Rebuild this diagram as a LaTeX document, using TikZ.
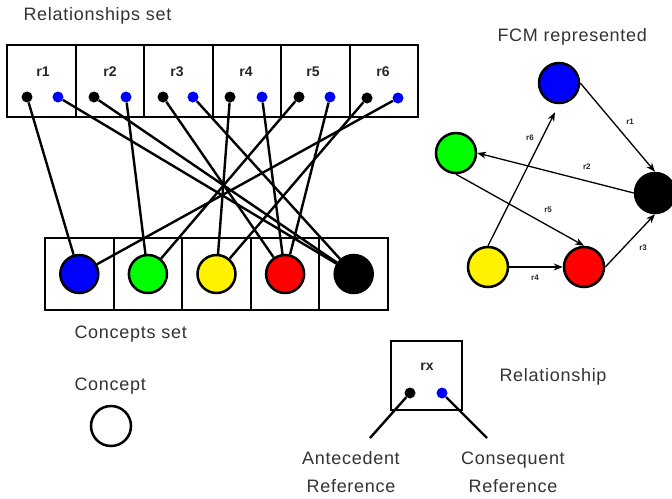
\documentclass[tikz,border=0pt]{standalone}
\usepackage{fontspec}
\setmainfont{Liberation Sans}
\usetikzlibrary{arrows.meta}
\tikzset{
  cell/.style={draw, line width=2pt, minimum width=68.5pt, minimum height=72pt, inner sep=0pt},
  refdot/.style={circle, fill=#1, inner sep=0pt, minimum size=11pt},
  concept/.style={circle, draw, line width=2.5pt, fill=#1, minimum size=38pt, inner sep=0pt},
  fcmconcept/.style={concept=#1, minimum size=40pt},
  link/.style={line width=2.4pt},
  fcmarrow/.style={line width=1.3pt, -{Stealth[length=9pt, width=7pt]}},
  caption/.style={font=\fontsize{18}{28}\selectfont\addfontfeature{LetterSpace=4}, text=black!80},
  rlabel/.style={font=\fontsize{14}{16}\selectfont\bfseries, text=black!85},
  fcmlabel/.style={font=\fontsize{8}{9}\selectfont\bfseries, text=black!85},
}

\begin{document}
\begin{tikzpicture}[x=1pt, y=-1pt]
  \useasboundingbox (0,0) rectangle (672,498);
  % relationships set
  \node[caption, anchor=west] (relset) at (20,16) {Relationships set};
  \node[cell] (c1) at (41.25,81) {};
  \node[cell] (c2) at (109.75,81) {};
  \node[cell] (c3) at (178.25,81) {};
  \node[cell] (c4) at (246.75,81) {};
  \node[cell] (c5) at (315.25,81) {};
  \node[cell] (c6) at (383.75,81) {};
  \node[rlabel] at (43,72) {r1};
  \node[rlabel] at (110,72) {r2};
  \node[rlabel] at (177,72) {r3};
  \node[rlabel] at (246,72) {r4};
  \node[rlabel] at (313,72) {r5};
  \node[rlabel] at (383,72) {r6};
  \node[refdot=black] (a1) at (27,97) {};
  \node[refdot=blue] (b1) at (58,97) {};
  \node[refdot=black] (a2) at (94,97) {};
  \node[refdot=blue] (b2) at (126,97) {};
  \node[refdot=black] (a3) at (163,97) {};
  \node[refdot=blue] (b3) at (193,97) {};
  \node[refdot=black] (a4) at (230,97) {};
  \node[refdot=blue] (b4) at (262,97) {};
  \node[refdot=black] (a5) at (299,97) {};
  \node[refdot=blue] (b5) at (330,97) {};
  \node[refdot=black] (a6) at (367,98) {};
  \node[refdot=blue] (b6) at (398,98) {};

  % concepts set
  \node[cell, minimum width=68.6pt] (k1) at (79.3,274) {};
  \node[cell, minimum width=68.6pt] (k2) at (147.9,274) {};
  \node[cell, minimum width=68.6pt] (k3) at (216.5,274) {};
  \node[cell, minimum width=68.6pt] (k4) at (285.1,274) {};
  \node[cell, minimum width=68.6pt] (k5) at (353.7,274) {};
  \node[concept=blue] (cb) at (k1) {};
  \node[concept=green] (cg) at (k2) {};
  \node[concept=yellow] (cy) at (k3) {};
  \node[concept=red] (cr) at (k4) {};
  \node[concept=black] (ck) at (k5) {};
  \node[caption, anchor=west] (conset) at (71,334) {Concepts set};

  \draw[link] (a1) -- (cb);
  \draw[link] (b1) -- (ck);
  \draw[link] (a2) -- (ck);
  \draw[link] (b2) -- (cg);
  \draw[link] (a3) -- (cr);
  \draw[link] (b3) -- (ck);
  \draw[link] (a4) -- (cy);
  \draw[link] (b4) -- (cr);
  \draw[link] (a5) -- (cg);
  \draw[link] (b5) -- (cr);
  \draw[link] (a6) -- (cy);
  \draw[link] (b6) -- (cb);

  % FCM represented
  \node[caption, anchor=west] (fcm) at (494,37) {FCM represented};
  \node[fcmconcept=blue] (fb) at (559,83) {};
  \node[fcmconcept=green] (fg) at (456,153) {};
  \node[fcmconcept=black] (fk) at (655,193) {};
  \node[fcmconcept=yellow] (fy) at (488,267) {};
  \node[fcmconcept=red] (fr) at (584,267) {};
  \draw[fcmarrow] (fb.east) -- node[fcmlabel, pos=.44, xshift=17pt] {r1} (fk.north);
  \draw[fcmarrow] (fk.west) -- node[fcmlabel, pos=.3, yshift=14pt] {r2} (fg.east);
  \draw[fcmarrow] (fr.east) -- node[fcmlabel, pos=.36, xshift=20pt] {r3} (fk.south);
  \draw[fcmarrow] (fy) -- node[fcmlabel, pos=.48, yshift=-11pt] {r4} (fr);
  \draw[fcmarrow] (fg.south) -- node[fcmlabel, pos=.72, yshift=16pt] {r5} (fr.north);
  \draw[fcmarrow, shorten >=9pt] (fy.north) -- node[fcmlabel, pos=.76, xshift=-12pt] {r6} (fb.south);

  % legend
  \node[caption, anchor=west] (conlbl) at (71,386) {Concept};
  \node[concept=white, minimum size=40pt] (legc) at (111,426) {};
  \node[cell, minimum width=71pt, minimum height=69pt] (rx) at (426.5,375.5) {};
  \node[rlabel] at (427,367) {rx};
  \node[refdot=black] (ra) at (410,393) {};
  \node[refdot=blue] (rb) at (442,393) {};
  \coordinate (rae) at (370,438);
  \coordinate (rbe) at (487,438);
  \draw[link] (ra) -- (rae);
  \draw[link] (rb) -- (rbe);
  \node[caption, anchor=west] (rellbl) at (496,377) {Relationship};
  \node[caption, align=center] (antlbl) at (351,472) {Antecedent\\Reference};
  \node[caption, align=center] (conslbl) at (513,472) {Consequent\\Reference};
\end{tikzpicture}
\end{document}
